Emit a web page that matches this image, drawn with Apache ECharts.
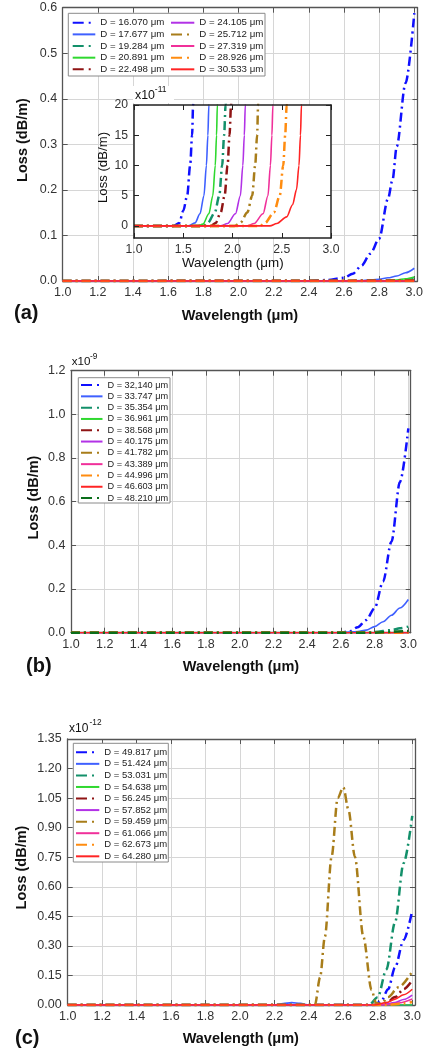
<!DOCTYPE html>
<html><head><meta charset="utf-8">
<script src="https://cdn.jsdelivr.net/npm/echarts@6/dist/echarts.min.js"></script>
<style>html,body{margin:0;padding:0;background:#fff}#c{width:426px;height:1051px}</style>
</head><body><div id="c"></div>
<script>
// ================= DATA =================
// ---- panel (a): legend names ----
const namesA = ['D = 16.070 μm','D = 17.677 μm','D = 19.284 μm','D = 20.891 μm','D = 22.498 μm',
                'D = 24.105 μm','D = 25.712 μm','D = 27.319 μm','D = 28.926 μm','D = 30.533 μm'];
// main plot (a): [wavelength µm, loss dB/m]
const a16070 = [[1.0,0],[2.4,0],[2.5,0.002],[2.6,0.007],[2.65,0.016],[2.7,0.034],[2.75,0.06],[2.8,0.093],[2.85,0.18],[2.876,0.222],[2.9,0.295],[2.95,0.434],[3.0,0.588]];
const a17677 = [[1.0,0],[2.6,0],[2.7,0.001],[2.8,0.004],[2.85,0.007],[2.9,0.011],[2.95,0.018],[3.0,0.028]];
const a19284 = [[1.0,0],[2.8,0],[2.9,0.001],[3.0,0.004]];
const a20891 = [[1.0,0],[2.8,0],[2.9,0.002],[2.95,0.005],[3.0,0.009]];
const a22498 = [[1.0,0],[3.0,0.001]];
const a24105 = [[1.0,0],[3.0,0]];
const a25712 = [[1.0,0],[3.0,0]];
const a27319 = [[1.0,0],[3.0,0]];
const a28926 = [[1.0,0],[3.0,0]];
const a30533 = [[1.0,0],[3.0,0]];
// inset (a): [wavelength µm, loss x1e-11 dB/m]
const i16070 = [[1.0,0],[1.40,0],[1.46,0.5],[1.50,2.5],[1.54,5],[1.57,10],[1.59,15],[1.60,20],[1.62,26]];
const i17677 = [[1.0,0],[1.55,0],[1.62,0.5],[1.67,2],[1.71,5],[1.735,10],[1.75,15],[1.76,20],[1.775,26]];
const i19284 = [[1.0,0],[1.70,0],[1.75,0.5],[1.82,2.2],[1.866,5],[1.895,10],[1.915,15],[1.93,20],[1.95,26]];
const i20891 = [[1.0,0],[1.65,0],[1.70,0.3],[1.76,2],[1.80,5],[1.825,10],[1.838,15],[1.846,20],[1.86,26]];
const i22498 = [[1.0,0],[1.78,0],[1.83,0.5],[1.88,2.2],[1.92,5],[1.95,10],[1.97,15],[1.985,20],[2.0,26]];
const i24105 = [[1.0,0],[1.88,0],[1.95,0.4],[2.03,2],[2.08,5],[2.105,10],[2.12,15],[2.13,20],[2.145,26]];
const i25712 = [[1.0,0],[2.02,0],[2.08,0.5],[2.15,2.2],[2.20,5],[2.23,10],[2.25,15],[2.26,20],[2.28,26]];
const i27319 = [[1.0,0],[2.15,0],[2.22,0.4],[2.31,2],[2.36,5],[2.385,10],[2.40,15],[2.41,20],[2.425,26]];
const i28926 = [[1.0,0],[2.28,0],[2.33,0.5],[2.42,2.2],[2.48,5],[2.515,10],[2.535,15],[2.55,20],[2.57,26]];
const i30533 = [[1.0,0],[2.38,0],[2.45,0.4],[2.55,1.5],[2.61,3.5],[2.65,6],[2.675,10],[2.69,15],[2.70,20],[2.715,26]];

// ---- panel (b): [wavelength µm, loss x1e-9 dB/m] ----
const namesB = ['D = 32,140 μm','D = 33.747 μm','D = 35.354 μm','D = 36.961 μm','D = 38.568 μm','D = 40.175 μm',
                'D = 41.782 μm','D = 43.389 μm','D = 44.996 μm','D = 46.603 μm','D = 48.210 μm'];
const b32140 = [[1.0,0],[2.55,0],[2.6,0.001],[2.65,0.006],[2.7,0.025],[2.75,0.058],[2.8,0.112],[2.85,0.234],[2.9,0.417],[2.95,0.69],[3.0,0.936]];
const b33747 = [[1.0,0],[2.6,0],[2.7,0.005],[2.75,0.012],[2.8,0.028],[2.85,0.05],[2.9,0.08],[2.95,0.113],[3.0,0.152]];
const b35354 = [[1.0,0],[2.75,0],[2.8,0.003],[2.9,0.012],[2.95,0.02],[3.0,0.028]];
const b36961 = [[1.0,0],[3.0,0]];
const b38568 = [[1.0,0],[3.0,0]];
const b40175 = [[1.0,0],[3.0,0]];
const b41782 = [[1.0,0],[3.0,0]];
const b43389 = [[1.0,0],[3.0,0]];
const b44996 = [[1.0,0],[3.0,0]];
const b46603 = [[1.0,0],[3.0,0]];
const b48210 = [[1.0,0],[2.8,0],[2.9,0.004],[3.0,0.008]];

// ---- panel (c): [wavelength µm, loss x1e-12 dB/m] ----
const namesC = ['D = 49.817 μm','D = 51.424 μm','D = 53.031 μm','D = 54.638 μm','D = 56.245 μm',
                'D = 57.852 μm','D = 59.459 μm','D = 61.066 μm','D = 62.673 μm','D = 64.280 μm'];
const c49817 = [[1.0,0],[2.78,0],[2.82,0.02],[2.86,0.08],[2.9,0.19],[2.95,0.33],[3.0,0.48]];
const c51424 = [[1.0,0],[2.2,0],[2.25,0.007],[2.3,0.012],[2.35,0.008],[2.4,0],[3.0,0]];
const c53031 = [[1.0,0],[2.75,0],[2.8,0.04],[2.85,0.18],[2.9,0.42],[2.95,0.72],[3.0,0.96]];
const c54638 = [[1.0,0],[3.0,0]];
const c56245 = [[1.0,0],[2.8,0],[2.85,0.01],[2.9,0.04],[2.95,0.08],[3.0,0.125]];
const c57852 = [[1.0,0],[2.82,0],[2.9,0.012],[2.95,0.028],[3.0,0.05]];
const c59459 = [[1.0,0],[2.435,0],[2.465,0.14],[2.493,0.347],[2.532,0.753],[2.567,1.05],[2.60,1.105],[2.63,0.99],[2.667,0.753],[2.716,0.347],[2.764,0.076],[2.79,0.01],[2.82,0.005],[2.86,0.04],[2.92,0.09],[3.0,0.17]];
const c61066 = [[1.0,0],[2.85,0],[2.92,0.01],[3.0,0.03]];
const c62673 = [[1.0,0],[2.85,0],[2.95,0.008],[3.0,0.015]];
const c64280 = [[1.0,0],[2.78,0],[2.85,0.012],[2.9,0.03],[2.95,0.052],[3.0,0.08]];

// ================= STYLE / BUILD =================
const FONT = '"Liberation Sans", Arial, Helvetica, sans-serif';
const COL = {blue:'#1010ff', blue2:'#3f60ff', teal:'#13906a', green:'#2fd82f', darkred:'#8f1414',
  purple:'#b232e6', olive:'#a87d1a', pink:'#f0309a', orange:'#ff8c10', red:'#ff2424', dkgreen:'#0a6e1a'};
const colorsA = [COL.blue,COL.blue2,COL.teal,COL.green,COL.darkred,COL.purple,COL.olive,COL.pink,COL.orange,COL.red];
const colorsB = colorsA.concat([COL.dkgreen]);
const dashA = [1,0,1,0,1,0,1,0,1,0];
const dashB = dashA.concat([1]);
const DASHDOT = [9,4,2,4];
const LEGEND_DASHDOT = [11,5,2,30];
const FRAME = '#555';
const GRIDLINE = '#d6d6d6';

const mainA = [a16070,a17677,a19284,a20891,a22498,a24105,a25712,a27319,a28926,a30533];
const insetA = [i16070,i17677,i19284,i20891,i22498,i24105,i25712,i27319,i28926,i30533];
const dataB = [b32140,b33747,b35354,b36961,b38568,b40175,b41782,b43389,b44996,b46603,b48210];
const dataC = [c49817,c51424,c53031,c54638,c56245,c57852,c59459,c61066,c62673,c64280];

const grids = [
  {left:62.7, top:7.7, width:355.6, height:273.3},
  {left:134, top:105, width:197, height:133, show:true, backgroundColor:'#fff', borderWidth:0, z:1},
  {left:71, top:370.7, width:339.7, height:262},
  {left:67.7, top:739, width:347.3, height:266}
];

const xAxes = [], yAxes = [];
function addAxes(gi, xr, yr, o) {
  const z = o.z || 0;
  const fc = o.frame || FRAME;
  const line = {show:true, onZero:false, lineStyle:{color:fc, width:o.fw || 1.3}};
  const tick = {show:true, inside:true, length:5, lineStyle:{color:fc, width:1}};
  const lab = {fontFamily:FONT, fontSize:o.fs || 12.5, color:'#333'};
  const xb = {type:'value', gridIndex:gi, position:'bottom', min:xr[0], max:xr[1], interval:xr[2], z,
    axisLine:line, axisTick:tick,
    splitLine:{show:!!o.grid, lineStyle:{color:GRIDLINE, width:1}},
    axisLabel:Object.assign({margin:o.xm || 5, showMaxLabel:xr[1] - 3 < 1e-9, formatter:v=>v.toFixed(1)}, lab)};
  const xt = {type:'value', gridIndex:gi, position:'top', min:xr[0], max:xr[1], interval:xr[2], z,
    axisLine:line, axisTick:tick, splitLine:{show:false}, axisLabel:{show:false}};
  const yl = {type:'value', gridIndex:gi, position:'left', min:yr[0], max:yr[1], z,
    axisLine:line, axisTick:Object.assign({}, tick),
    splitLine:{show:!!o.grid, lineStyle:{color:GRIDLINE, width:1}},
    axisLabel:Object.assign({margin:o.ym || 5.5, formatter:o.yfmt}, lab)};
  const yr2 = {type:'value', gridIndex:gi, position:'right', min:yr[0], max:yr[1], z,
    axisLine:line, axisTick:Object.assign({}, tick), splitLine:{show:false}, axisLabel:{show:false}};
  if (yr[2]) { yl.interval = yr[2]; yr2.interval = yr[2]; }
  if (o.yCustom) {
    yl.axisLabel.customValues = o.yCustom; yl.axisTick.customValues = o.yCustom;
    yr2.axisTick.customValues = o.yCustom;
  }
  xAxes.push(xb, xt); yAxes.push(yl, yr2);
}
addAxes(0, [1, 3.018, 0.2], [0, 0.6, 0.1], {grid:true, yfmt:v=>v.toFixed(1)});
addAxes(1, [1, 3, 0.5], [-2, 20, null], {z:4, frame:'#222', fw:1.5, fs:12.2, xm:6, ym:6, yCustom:[0,5,10,15,20], yfmt:v=>String(Math.round(v))});
addAxes(2, [1, 3.014, 0.2], [0, 1.2, 0.2], {grid:true, yfmt:v=>v.toFixed(1)});
addAxes(3, [1, 3.016, 0.2], [0, 1.35, 0.15], {grid:true, yfmt:v=>v.toFixed(2), ym:6});

const series = [];
function addLine(name, data, color, dash, axisIdx, z) {
  series.push({type:'line', name, data, xAxisIndex:axisIdx, yAxisIndex:axisIdx, symbol:'none', showSymbol:false,
    smooth:0.3, smoothMonotone:'x', clip:true, z:z || 2, silent:true,
    lineStyle:{color, width: dash ? 2.5 : 1.6, type: dash ? DASHDOT : 'solid', cap:'butt'},
    itemStyle:{color}, emphasis:{disabled:true}});
}
namesA.forEach((n,k)=>addLine(n, mainA[k], colorsA[k], dashA[k], 0, 2));
namesA.forEach((n,k)=>addLine(n, insetA[k], colorsA[k], dashA[k], 2, 3));
namesB.forEach((n,k)=>addLine(n, dataB[k], colorsB[k], dashB[k], 4, 2));
namesC.forEach((n,k)=>addLine(n, dataC[k], colorsA[k], dashA[k], 6, 2));

function legend(names, dashes, left, top, pitch, fs, iw) {
  return {show:true, orient:'vertical', left, top, padding:0, itemGap:0, itemWidth:iw, itemHeight:pitch,
    data:names.map((n,k)=> dashes[k] ? {name:n, lineStyle:{type:LEGEND_DASHDOT}} : {name:n}),
    selectedMode:false, z:5,
    itemStyle:{opacity:0, borderWidth:0},
    lineStyle:{width:2},
    textStyle:{fontFamily:FONT, fontSize:fs, color:'#222', lineHeight:pitch, padding:[0,0,0,0]}};
}
const legends = [
  legend(namesA.slice(0,5), dashA.slice(0,5), 71.7, 16.9, 11.65, 9.7, 22.6),
  legend(namesA.slice(5), dashA.slice(5), 170, 16.9, 11.65, 9.7, 23.3),
  legend(namesB, dashB, 80, 379.4, 11.3, 9.2, 21.5),
  legend(namesC, dashA, 75, 746.5, 11.56, 9.5, 23.3)
];

function txt(x, y, text, size, opts) {
  opts = opts || {};
  return {type:'text', x, y, rotation: opts.rot ? Math.PI/2 : 0, z: opts.z || 6, silent:true,
    style:{text, fill:'#111', fontFamily:FONT, fontSize:size, fontWeight: opts.bold ? 'bold' : 'normal',
      align: opts.align || 'center', verticalAlign:'middle'}};
}
function box(x, y, w, h, z, stroke) {
  return {type:'rect', shape:{x, y, width:w, height:h}, z, silent:true,
    style:{fill:'#fff', stroke: stroke || null, lineWidth:1}};
}
const graphics = [
  box(68.3, 13.3, 196.7, 62.7, 3, '#8a8a8a'),
  box(78.3, 377.7, 91.7, 125.3, 3, '#8a8a8a'),
  box(73.3, 743.3, 95, 118.7, 3, '#8a8a8a'),
  box(133, 86, 41, 17, 3, null),
  // panel (a)
  txt(22.5, 140, 'Loss (dB/m)', 14.5, {rot:true, bold:true}),
  txt(240, 316, 'Wavelength (μm)', 14.5, {bold:true}),
  txt(14, 313, '(a)', 20, {bold:true, align:'left'}),
  txt(103.5, 167.5, 'Loss (dB/m)', 13.2, {rot:true}),
  txt(232.8, 263.3, 'Wavelength (μm)', 13.4),
  txt(135, 95.7, 'x10', 12.4, {align:'left'}),
  txt(154.8, 90, '-11', 8.5, {align:'left'}),
  // panel (b)
  txt(34, 497.5, 'Loss (dB/m)', 14.5, {rot:true, bold:true}),
  txt(241, 666.7, 'Wavelength (μm)', 14.5, {bold:true}),
  txt(26, 666.7, '(b)', 20, {bold:true, align:'left'}),
  txt(71.7, 361.5, 'x10', 11.6, {align:'left'}),
  txt(90, 357, '-9', 8.3, {align:'left'}),
  // panel (c)
  txt(21.7, 867.5, 'Loss (dB/m)', 14.5, {rot:true, bold:true}),
  txt(240.8, 1039.3, 'Wavelength (μm)', 14.5, {bold:true}),
  txt(15, 1038.3, '(c)', 20, {bold:true, align:'left'}),
  txt(69, 728.3, 'x10', 12, {align:'left'}),
  txt(89.5, 723, '-12', 8.3, {align:'left'})
];

const chart = echarts.init(document.getElementById('c'), null, {renderer:'canvas', width:426, height:1051});
chart.setOption({
  backgroundColor:'#fff', animation:false,
  grid:grids, xAxis:xAxes, yAxis:yAxes, series, legend:legends, graphic:graphics
});
</script></body></html>
